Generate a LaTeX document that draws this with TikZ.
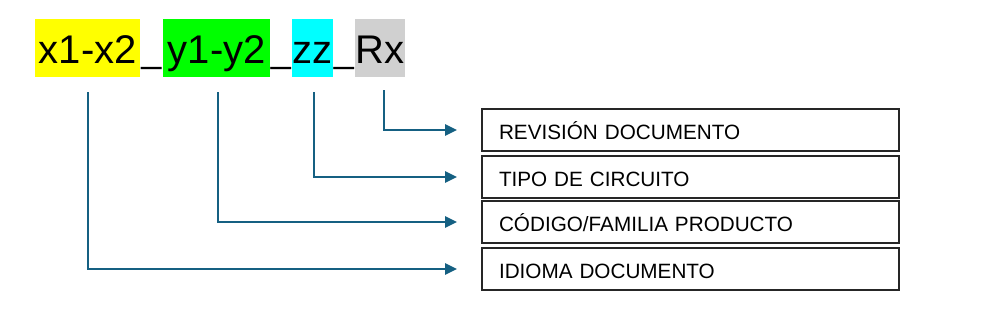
\documentclass[tikz,border=0pt]{standalone}
\usepackage{fontspec}
\setmainfont{Liberation Sans}
\usetikzlibrary{arrows.meta}
\definecolor{conncol}{HTML}{156082}
\definecolor{hlgray}{HTML}{D0D0D0}
\definecolor{hlyellow}{HTML}{FFFF00}
\definecolor{hlgreen}{HTML}{00FF00}
\definecolor{hlcyan}{HTML}{00FFFF}
\tikzset{
  hl/.style={anchor=north west, inner sep=0pt, minimum height=58bp, text height=44bp, text depth=14bp, font=\fontsize{40bp}{40bp}\selectfont},
  under/.style={anchor=base, inner sep=0pt, font=\fontsize{36bp}{36bp}\selectfont},
  labelbox/.style={draw=black!85, line width=2bp, anchor=north west, minimum height=42bp, inner xsep=17bp, inner ysep=0pt, text width=383bp, align=left, text height=18.8bp, text depth=0pt, font=\fontsize{20.7bp}{20.7bp}\selectfont},
  conn/.style={draw=conncol, line width=2.6bp, -{Triangle[length=12bp,width=11bp]}, shorten >=24bp}
}
\begin{document}
\begin{tikzpicture}[x=1bp,y=-1bp]
\useasboundingbox (0,0) rectangle (1004,320);
% code parts
\node[hl, fill=hlyellow, minimum width=105bp] (x) at (35,19) {x1-x2};
\node[hl, fill=hlgreen, minimum width=107bp] (y) at (163,19) {y1-y2};
\node[hl, fill=hlcyan, minimum width=41bp] (z) at (292,19) {zz};
\node[hl, fill=hlgray, minimum width=50bp] (r) at (355,19) {Rx};
\node[under] (u1) at (151.5,62) {\_};
\node[under] (u2) at (281,62) {\_};
\node[under] (u3) at (344,62) {\_};
% label boxes
\node[labelbox] (b1) at (481,108) {REVISIÓN DOCUMENTO};
\node[labelbox] (b2) at (481,155) {TIPO DE CIRCUITO};
\node[labelbox] (b3) at (481,200) {CÓDIGO/FAMILIA PRODUCTO};
\node[labelbox] (b4) at (481,247) {IDIOMA DOCUMENTO};
% connector starts
\coordinate (s1) at (384,90);
\coordinate (s2) at (314,92);
\coordinate (s3) at (218,92);
\coordinate (s4) at (88,92);
\draw[conn] (s1) |- (b1.west);
\draw[conn] (s2) |- (b2.west);
\draw[conn] (s3) |- (b3.west);
\draw[conn] (s4) |- (b4.west);
\end{tikzpicture}
\end{document}
